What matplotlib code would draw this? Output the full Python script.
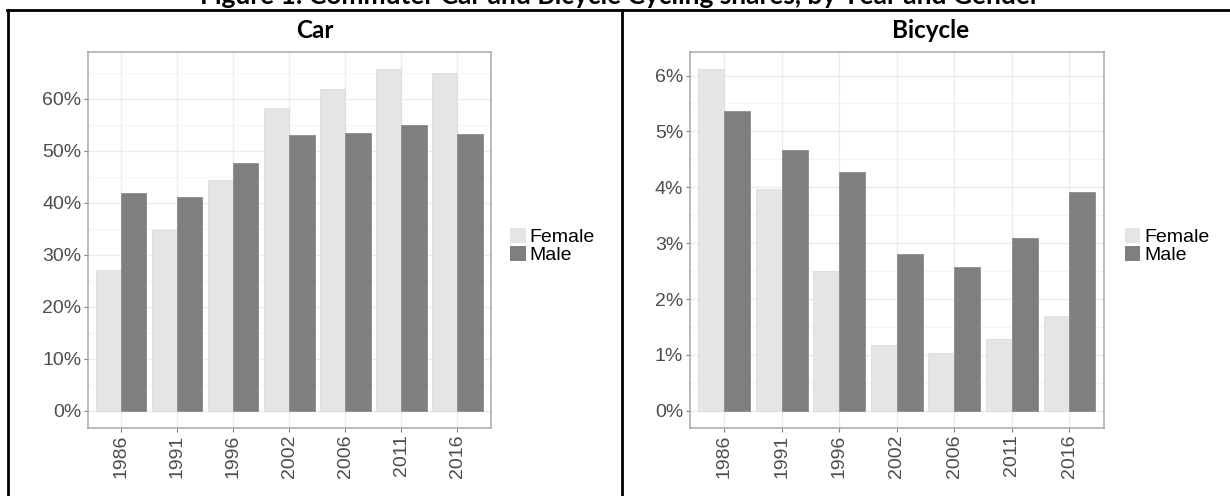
import matplotlib
matplotlib.use("Agg")
import matplotlib.pyplot as plt
from matplotlib.patches import Patch
from matplotlib.lines import Line2D
from matplotlib.ticker import MultipleLocator, FuncFormatter
import numpy as np

years = ["1986", "1991", "1996", "2002", "2006", "2011", "2016"]
genders = ["Female", "Male"]
car_female = [27.1, 34.7, 44.4, 58.2, 62.0, 65.8, 64.9]
car_male = [42.0, 41.2, 47.6, 53.0, 53.5, 55.0, 53.2]
bike_female = [6.12, 3.97, 2.51, 1.18, 1.03, 1.28, 1.70]
bike_male = [5.36, 4.66, 4.27, 2.80, 2.58, 3.09, 3.91]

panel_titles = ["Car", "Bicycle"]
fig_title = "Figure 1: Commuter Car and Bicycle Cycling shares, by Year and Gender"

FEMALE_C = "#e5e5e5"
MALE_C = "#7f7f7f"
TICK_C = "#4d4d4d"

plt.rcParams["font.family"] = ["Liberation Sans", "DejaVu Sans"]

W, H = 1230, 496
fig = plt.figure(figsize=(W / 100, H / 100), dpi=100)


def px_axes(l, r, t, b):
    return fig.add_axes([l / W, 1 - b / H, (r - l) / W, (b - t) / H])


def draw_panel(ax, fem, mal, major, minor, legend_x):
    x = np.arange(len(years))
    w = 0.45
    ax.bar(x - w / 2, fem, width=w, color=FEMALE_C, edgecolor="#dcdcdc", linewidth=0.6, zorder=3, label="Female")
    ax.bar(x + w / 2, mal, width=w, color=MALE_C, edgecolor="#8c8c8c", linewidth=0.6, zorder=3, label="Male")
    vmax = max(max(fem), max(mal))
    ax.set_ylim(-0.05 * vmax, 1.05 * vmax)
    ax.set_xlim(-0.6, len(years) - 0.4)
    ax.yaxis.set_major_locator(MultipleLocator(major))
    ax.yaxis.set_minor_locator(MultipleLocator(minor))
    ax.yaxis.set_major_formatter(FuncFormatter(lambda v, p: f"{v:.0f}%"))
    ax.set_xticks(x)
    ax.set_xticklabels(years, rotation=90)
    ax.grid(True, which="major", color="#ebebeb", linewidth=1.0, zorder=0)
    ax.grid(True, which="minor", axis="y", color="#f4f4f4", linewidth=0.8, zorder=0)
    ax.set_axisbelow(True)
    for s in ax.spines.values():
        s.set_color("#a8a8a8")
        s.set_linewidth(1.1)
    ax.tick_params(axis="both", which="major", length=3.0, width=0.8, color="#7f7f7f",
                   labelsize=14, labelcolor=TICK_C, pad=1.5)
    ax.tick_params(axis="y", which="minor", length=0)
    handles = [Patch(facecolor=FEMALE_C, edgecolor="none"), Patch(facecolor=MALE_C, edgecolor="none")]
    ax.legend(handles, genders, loc="center left", bbox_to_anchor=(legend_x / W, 1 - 246 / H),
              bbox_transform=fig.transFigure, frameon=False, fontsize=14,
              handlelength=0.82, handleheight=0.82, handletextpad=0.2,
              labelspacing=0.0, borderpad=0, borderaxespad=0)


ax1 = px_axes(87.6, 491, 51.7, 428)
draw_panel(ax1, car_female, car_male, 10, 5, 510)
ax2 = px_axes(689.5, 1104, 51.7, 428)
draw_panel(ax2, bike_female, bike_male, 1, 0.5, 1124.5)

# table frame
lw = 2.0
fig.add_artist(Line2D([7 / W, 1.0], [1 - 9.5 / H, 1 - 9.5 / H], color="black", lw=lw, transform=fig.transFigure))
fig.add_artist(Line2D([8 / W, 8 / W], [0, 1 - 9.5 / H], color="black", lw=lw, transform=fig.transFigure))
fig.add_artist(Line2D([621.5 / W, 621.5 / W], [0, 1 - 9.5 / H], color="black", lw=lw, transform=fig.transFigure))

# titles
fig.text(314.6 / W, 1 - 38.3 / H, panel_titles[0], ha="center", va="baseline",
         fontsize=17.5, fontweight="bold", family=["Lato", "DejaVu Sans"])
fig.text(930.6 / W, 1 - 38.3 / H, panel_titles[1], ha="center", va="baseline",
         fontsize=17.5, fontweight="bold", family=["Lato", "DejaVu Sans"])
fig.text(620 / W, 1 - 4 / H, fig_title, ha="center", va="baseline",
         fontsize=19, fontweight="bold", family=["Lato", "DejaVu Sans"])

fig.savefig("out.png", dpi=100)
